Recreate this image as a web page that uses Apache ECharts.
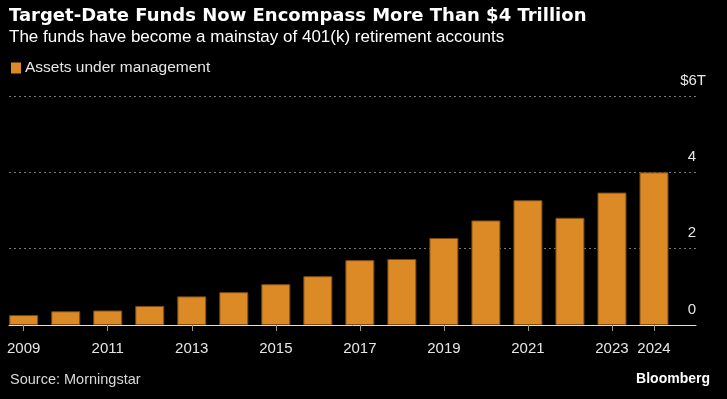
<!DOCTYPE html>
<html>
<head>
<meta charset="utf-8">
<script src="https://cdn.jsdelivr.net/npm/echarts@6/dist/echarts.min.js"></script>
<style>
  html, body { margin: 0; padding: 0; background: #000; }
  #chart { width: 727px; height: 399px; }
</style>
</head>
<body>
<div id="chart"></div>
<script>
// 数据
const years = [2009, 2010, 2011, 2012, 2013, 2014, 2015, 2016, 2017, 2018, 2019, 2020, 2021, 2022, 2023, 2024];
const assets = [0.26, 0.36, 0.38, 0.50, 0.75, 0.86, 1.07, 1.28, 1.70, 1.73, 2.28, 2.74, 3.27, 2.81, 3.47, 4.00];
const xTickYears = [2009, 2011, 2013, 2015, 2017, 2019, 2021, 2023, 2024];
const yTicks = [0, 2, 4, 6];

const chart = echarts.init(document.getElementById('chart'));

const orange = '#DB8A26';
const textColor = '#e6e6e6';

chart.setOption({
  backgroundColor: '#000',
  animation: false,
  title: [
    {
      text: 'Target-Date Funds Now Encompass More Than $4 Trillion',
      left: 9, top: 7, padding: 0,
      textStyle: { color: '#fff', fontFamily: 'DejaVu Sans', fontWeight: 'bold', fontSize: 18 }
    },
    {
      text: 'The funds have become a mainstay of 401(k) retirement accounts',
      left: 9, top: 29, padding: 0,
      textStyle: { color: '#fff', fontFamily: 'Liberation Sans', fontWeight: 'normal', fontSize: 17 }
    },
    {
      text: 'Source: Morningstar',
      left: 10, top: 372, padding: 0,
      textStyle: { color: '#d8d8d8', fontFamily: 'Liberation Sans', fontWeight: 'normal', fontSize: 14.5 }
    },
    {
      text: 'Bloomberg',
      right: 17, top: 372, padding: 0,
      textStyle: { color: '#fff', fontFamily: 'Liberation Sans', fontWeight: 'bold', fontSize: 14 }
    }
  ],
  legend: {
    left: 11, top: 60, padding: 0,
    icon: 'rect',
    itemWidth: 10, itemHeight: 11,
    itemGap: 6,
    itemStyle: { borderWidth: 0 },
    textStyle: { color: textColor, fontFamily: 'Liberation Sans', fontSize: 15.5, padding: [0, 0, 0, -1] },
    data: ['Assets under management']
  },
  grid: { left: 9, right: 31, top: 96, bottom: 74 },
  xAxis: {
    type: 'value',
    min: 2008.65,
    max: 2025,
    splitLine: { show: false },
    axisLine: { show: true, onZero: false, lineStyle: { color: '#e0e0e0', width: 1 } },
    axisTick: { show: true, customValues: xTickYears, length: 6, lineStyle: { color: '#999' } },
    axisLabel: {
      customValues: xTickYears,
      color: textColor,
      fontFamily: 'Liberation Sans',
      fontSize: 15,
      margin: 16,
      formatter: v => String(v)
    }
  },
  yAxis: {
    type: 'value',
    position: 'right',
    min: 0, max: 6, interval: 2,
    axisLine: { show: false },
    axisTick: { show: false },
    splitLine: { lineStyle: { color: '#777', type: [2, 3], width: 1 } },
    axisLabel: {
      inside: true,
      margin: 0,
      color: textColor,
      fontFamily: 'Liberation Sans',
      fontSize: 15,
      verticalAlign: 'bottom',
      padding: [0, 0, 8, 0],
      customValues: yTicks,
      formatter: v => v === 6 ? '{u|$6T}' : String(v),
      rich: {
        u: { color: textColor, fontFamily: 'Liberation Sans', fontSize: 15, padding: [0, -10, 0, 0] }
      }
    }
  },
  series: [{
    name: 'Assets under management',
    type: 'bar',
    barWidth: 29,
    itemStyle: { color: orange, borderColor: '#7a4a14', borderWidth: 1 },
    data: years.map((y, i) => [y, assets[i]])
  }]
});
</script>
</body>
</html>
